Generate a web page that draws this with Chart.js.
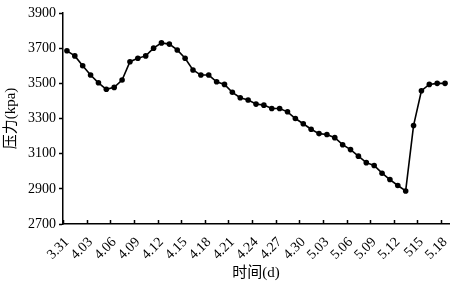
<!DOCTYPE html>
<html>
<head>
<meta charset="utf-8">
<script src="https://cdn.jsdelivr.net/npm/chart.js@4.4.1/dist/chart.umd.min.js"></script>
<style>
  html, body { margin: 0; padding: 0; background: #fff; }
  #wrap { width: 453px; height: 284px; }
</style>
</head>
<body>
<div id="wrap"><canvas id="pressureChart" width="453" height="284"></canvas></div>
<script>
// 日期（每天一个点）
const dates = [
  '3.31',
  '4.01', '4.02', '4.03', '4.04', '4.05', '4.06', '4.07', '4.08', '4.09', '4.10',
  '4.11', '4.12', '4.13', '4.14', '4.15', '4.16', '4.17', '4.18', '4.19', '4.20',
  '4.21', '4.22', '4.23', '4.24', '4.25', '4.26', '4.27', '4.28', '4.29', '4.30',
  '5.01', '5.02', '5.03', '5.04', '5.05', '5.06', '5.07', '5.08', '5.09', '5.10',
  '5.11', '5.12', '5.13', '5.14', '5.15', '5.16', '5.17', '5.18'
];

// 压力 (kpa)
const pressure = [
  3685, 3656, 3600, 3547, 3503, 3466, 3477, 3519, 3623, 3643,
  3656, 3700, 3730, 3723, 3690, 3643, 3576, 3547, 3547, 3509,
  3494, 3449, 3418, 3405, 3382, 3376, 3357, 3357, 3338, 3300,
  3270, 3239, 3214, 3209, 3191, 3151, 3123, 3086, 3049, 3033,
  2989, 2953, 2919, 2888, 3260, 3458, 3494, 3500, 3500
];

// 横轴显示的标签（每3天一个，原图就写成 515）
const xTickLabels = [
  '3.31', '4.03', '4.06', '4.09', '4.12', '4.15', '4.18', '4.21', '4.24',
  '4.27', '4.30', '5.03', '5.06', '5.09', '5.12', '515', '5.18'
];
const xTickStep = 3;

const yMin = 2700;
const yMax = 3900;
const yStep = 200;

const serif = "'Liberation Serif', 'Times New Roman', 'Noto Sans CJK SC', serif";

// 横轴的刻度线朝里画
const innerTicks = {
  id: 'innerTicks',
  afterDraw(chart) {
    const x = chart.scales.x;
    const ctx = chart.ctx;
    ctx.save();
    ctx.strokeStyle = '#000';
    ctx.lineWidth = 1.5;
    ctx.beginPath();
    for (let i = 0; i < dates.length; i += xTickStep) {
      const px = Math.round(x.getPixelForValue(i - 0.5)) + 0.5;
      ctx.moveTo(px, x.top);
      ctx.lineTo(px, x.top - 4);
    }
    ctx.stroke();
    ctx.restore();
  }
};

const ctx = document.getElementById('pressureChart').getContext('2d');
new Chart(ctx, {
  type: 'line',
  data: {
    labels: dates,
    datasets: [{
      data: pressure,
      borderColor: '#000',
      backgroundColor: '#000',
      borderWidth: 1.6,
      pointRadius: 2.8,
      pointBorderWidth: 0,
      tension: 0,
      clip: false
    }]
  },
  options: {
    responsive: false,
    animation: false,
    layout: { padding: { top: 13, right: 0, left: 0, bottom: 0 } },
    plugins: {
      legend: { display: false },
      tooltip: { enabled: false }
    },
    scales: {
      x: {
        type: 'category',
        offset: true,
        afterFit(scale) {
          scale.height = 60;
          // 最后一个标签允许出界，轴一直画到右边
          scale.paddingRight = 0;
          scale.paddingLeft = 0;
        },
        border: { display: true, color: '#000', width: 1.5 },
        grid: { display: false },
        ticks: {
          autoSkip: false,
          maxRotation: 45,
          minRotation: 45,
          padding: 2,
          color: '#000',
          font: { family: serif, size: 14 },
          callback: (val, i) => (i % xTickStep === 0 ? xTickLabels[i / xTickStep] : '')
        },
        title: {
          display: true,
          text: '时间(d)',
          color: '#000',
          font: { family: serif, size: 15 },
          padding: { top: 0, bottom: 2 }
        }
      },
      y: {
        min: yMin,
        max: yMax,
        afterFit(scale) { scale.width = 63; },
        border: { display: true, color: '#000', width: 1.5 },
        grid: {
          drawOnChartArea: false,
          tickLength: 4,
          tickWidth: 1.5,
          tickColor: '#000'
        },
        ticks: {
          stepSize: yStep,
          padding: 3,
          color: '#000',
          font: { family: serif, size: 14 },
          callback: (val) => String(val)
        },
        title: {
          display: true,
          text: '压力(kpa)',
          color: '#000',
          font: { family: serif, size: 15 },
          padding: { top: 2, bottom: 0 }
        }
      }
    }
  },
  plugins: [innerTicks]
});
</script>
</body>
</html>
